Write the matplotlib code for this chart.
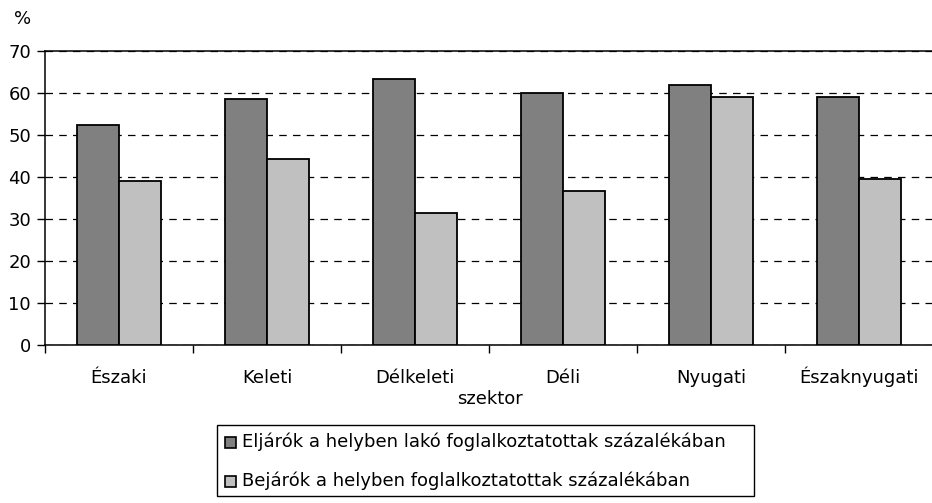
import matplotlib.pyplot as plt
import numpy as np
from matplotlib.patches import Rectangle

plt.rcParams['font.family'] = ['DejaVu Sans']

sectors = ["Északi", "Keleti", "Délkeleti", "Déli", "Nyugati", "Északnyugati"]
eljarok = [52.4, 58.6, 63.3, 60.0, 61.9, 59.0]
bejarok = [39.0, 44.3, 31.4, 36.7, 59.0, 39.5]
series_labels = ["Eljárók a helyben lakó foglalkoztatottak százalékában",
                 "Bejárók a helyben foglalkoztatottak százalékában"]
dark = "#808080"
light = "#c0c0c0"

fig = plt.figure(figsize=(9.32, 5.03), dpi=100)
ax = fig.add_axes((45/932, 1 - 345/503, 888/932, 294/503))

x = np.arange(len(sectors))
w = 0.284
ax.bar(x - w/2, eljarok, w, color=dark, edgecolor="black", linewidth=1.3, zorder=3)
ax.bar(x + w/2, bejarok, w, color=light, edgecolor="black", linewidth=1.3, zorder=3)

ax.set_xlim(-0.5, 5.5)
ax.set_ylim(0, 70)
ax.set_yticks(range(0, 71, 10))
ax.tick_params(axis='y', direction='out', length=6, width=1, labelsize=13, pad=4)
ax.yaxis.grid(True, linestyle=(0, (6, 5)), color="black", linewidth=0.9, zorder=0)

ax.set_xticks(np.arange(-0.5, 6, 1))
ax.set_xticklabels([])
ax.tick_params(axis='x', direction='out', length=6, width=1)
for i, s in enumerate(sectors):
    ax.text(i, -9.0, s, ha='center', va='baseline', fontsize=13)

for sp in ['left', 'bottom', 'top']:
    ax.spines[sp].set_linewidth(1.1)
ax.spines['right'].set_visible(False)

fig.text(490/932, 1 - 399/503, "szektor", ha='center', va='center', fontsize=13)
fig.text(23/932, 1 - 19/503, "%", ha='center', va='center', fontsize=13)

# legend box
fig.patches.append(Rectangle((217/932, 1 - 496/503), 537/932, 71/503,
                             transform=fig.transFigure, facecolor='white',
                             edgecolor='black', linewidth=1))
for j, (lab, col) in enumerate(zip(series_labels, [dark, light])):
    yc = 442 + j * 39
    fig.patches.append(Rectangle((225/932, 1 - (yc + 6)/503), 11/932, 11/503,
                                 transform=fig.transFigure, facecolor=col,
                                 edgecolor='black', linewidth=1.2))
    fig.text(242/932, 1 - yc/503, lab, ha='left', va='center', fontsize=13)

fig.savefig("out.png", dpi=100)
